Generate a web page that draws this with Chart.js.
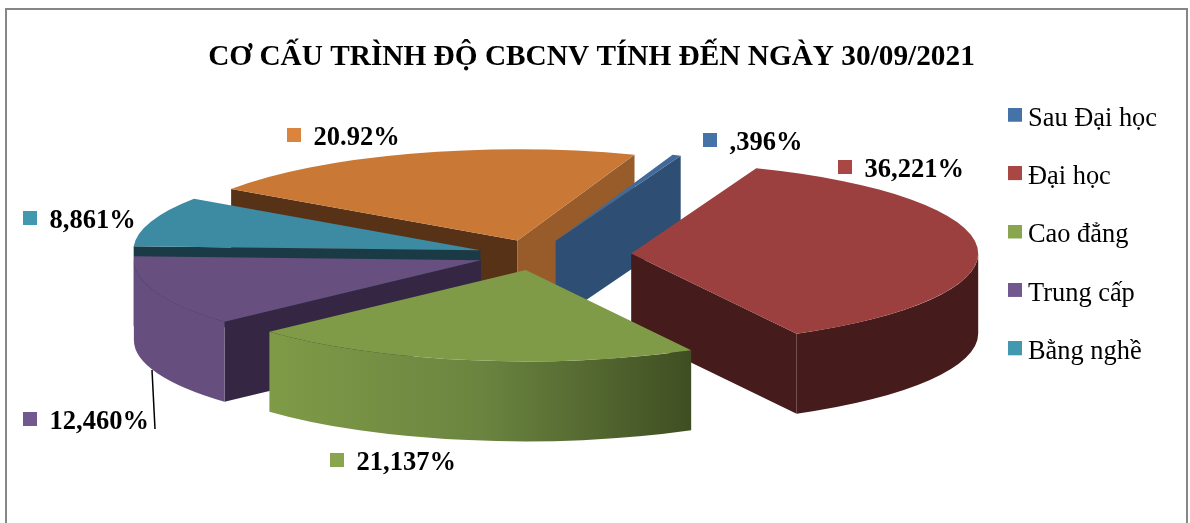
<!DOCTYPE html>
<html>
<head>
<meta charset="utf-8">
<script src="https://cdn.jsdelivr.net/npm/chart.js@4"></script>
<style>
  html, body { margin: 0; padding: 0; background: #fff; overflow: hidden; }
  canvas { display: block; }
</style>
</head>
<body>
<canvas id="chart" width="1190" height="523"></canvas>
<script>
const titleText = 'CƠ CẤU TRÌNH ĐỘ CBCNV TÍNH ĐẾN NGÀY 30/09/2021';
const categories = ['Sau Đại học', 'Đại học', 'Cao đẳng', 'Trung cấp', 'Bằng nghề', ''];
const shares = [0.396, 36.221, 21.137, 12.46, 8.861, 20.92];
const shareLabels = [',396%', '36,221%', '21,137%', '12,460%', '8,861%', '20.92%'];

const legendColors = ['#4573A7', '#AA4643', '#89A54E', '#71588F', '#4198AF', '#DB843D'];
const topColors = ['#41699A', '#9C3F3F', '#7F9B47', '#674F7F', '#3D8AA3', '#C97935'];
const startCutColors = ['#2E4F73', '#451B1B', '#451B1B', '#352743', '#1A3B45', '#573216'];
const endCutColors = ['#2E4F73', '#451B1B', '#5A7030', '#352743', '#1A3B45', '#985C2B'];
const sideColors = ['#2E4F73', '#451B1B', '#7F9B47', '#664E7E', '#3D8AA3', '#985C2B'];

// pie is flattened by hand, chart.js has no 3d mode
const squash = 0.263;
const depth = 80;
const shiftX = 36;
const shiftY = -8;
const explode = [58, 96, 58, 58, 58, 58];
const paintOrder = [5, 0, 4, 3, 1, 2];
const labelSpots = [[703, 133], [838, 160], [330, 453], [23, 412], [23, 211], [287, 128]];

function slicePlace(arc, i) {
  const mid = (arc.startAngle + arc.endAngle) / 2;
  return {
    x: arc.x + shiftX + Math.cos(mid) * explode[i],
    y: arc.y + shiftY + Math.sin(mid) * explode[i] * squash
  };
}

function drawCut(ctx, p, r, angle, color) {
  const ex = p.x + Math.cos(angle) * r;
  const ey = p.y + Math.sin(angle) * r * squash;
  ctx.fillStyle = color;
  ctx.beginPath();
  ctx.moveTo(p.x, p.y);
  ctx.lineTo(ex, ey);
  ctx.lineTo(ex, ey + depth);
  ctx.lineTo(p.x, p.y + depth);
  ctx.closePath();
  ctx.fill();
}

// part of the slice's arc on the viewer's side, if any
function frontSpan(a0, a1) {
  for (let k = -1; k <= 1; k++) {
    const from = Math.max(a0 + k * 2 * Math.PI, 0);
    const to = Math.min(a1 + k * 2 * Math.PI, Math.PI);
    if (to > from) return [from, to];
  }
  return null;
}

// taller than the square so it sits a little above the text's middle
function squareMarker(color) {
  const c = document.createElement('canvas');
  c.width = 14;
  c.height = 22;
  const g = c.getContext('2d');
  g.fillStyle = color;
  g.fillRect(0, 0, 14, 14);
  return c;
}

const pie3d = {
  id: 'pie3d',
  beforeDraw(chart) {
    const ctx = chart.ctx;
    ctx.save();
    ctx.strokeStyle = '#868686';
    ctx.lineWidth = 2;
    ctx.strokeRect(6, 9, 1181, 530);
    ctx.restore();
  },
  beforeDatasetDraw(chart, args) {
    const ctx = chart.ctx;
    const arcs = args.meta.data;
    paintOrder.forEach(i => {
      const arc = arcs[i];
      const p = slicePlace(arc, i);
      const r = arc.outerRadius;
      const a0 = arc.startAngle;
      const a1 = arc.endAngle;

      // only the cut walls facing the viewer
      if (Math.cos(a0) < 0) drawCut(ctx, p, r, a0, startCutColors[i]);
      if (Math.cos(a1) > 0) drawCut(ctx, p, r, a1, endCutColors[i]);

      // rim
      const span = frontSpan(a0, a1);
      if (span) {
        let rimFill = sideColors[i];
        if (i === 2) {
          rimFill = ctx.createLinearGradient(p.x - 258, 0, p.x + 166, 0);
          rimFill.addColorStop(0, '#7F9B47');
          rimFill.addColorStop(0.5, '#6B8540');
          rimFill.addColorStop(1, '#3F4E22');
        }
        ctx.fillStyle = rimFill;
        ctx.beginPath();
        ctx.ellipse(p.x, p.y, r, r * squash, 0, span[0], span[1]);
        ctx.ellipse(p.x, p.y + depth, r, r * squash, 0, span[1], span[0], true);
        ctx.closePath();
        ctx.fill();
      }

      // top face is the library's own arc
      ctx.save();
      ctx.translate(p.x, p.y);
      ctx.scale(1, squash);
      ctx.translate(-arc.x, -arc.y);
      arc.draw(ctx);
      ctx.restore();
    });
    return false;
  },
  afterDatasetsDraw(chart) {
    const ctx = chart.ctx;
    ctx.save();
    // leader of the purple label
    ctx.strokeStyle = '#000';
    ctx.lineWidth = 1.5;
    ctx.beginPath();
    ctx.moveTo(152, 370);
    ctx.lineTo(155, 429);
    ctx.stroke();

    ctx.font = 'bold 26.5px "Liberation Serif"';
    ctx.textBaseline = 'middle';
    shareLabels.forEach((text, i) => {
      const spot = labelSpots[i];
      ctx.fillStyle = legendColors[i];
      ctx.fillRect(spot[0], spot[1], 14, 14);
      ctx.fillStyle = '#000';
      ctx.fillText(text, spot[0] + 26.5, spot[1] + 10.5);
    });
    ctx.restore();
  }
};

new Chart(document.getElementById('chart'), {
  type: 'pie',
  data: {
    labels: categories,
    datasets: [
      {
        data: shares,
        backgroundColor: topColors,
        borderWidth: 0
      }
    ]
  },
  options: {
    responsive: false,
    animation: false,
    rotation: 19.7,
    radius: 347,
    layout: { padding: { left: 16, right: 23, top: 40, bottom: 92 } },
    plugins: {
      title: {
        display: true,
        text: titleText,
        color: '#000',
        font: { family: '"Liberation Serif"', size: 29.3, weight: 'bold' },
        padding: { top: 0, bottom: 20 }
      },
      legend: {
        position: 'right',
        labels: {
          color: '#000',
          font: { family: '"Liberation Serif"', size: 26.4 },
          usePointStyle: true,
          boxWidth: 0.01,
          boxHeight: 14,
          padding: 32,
          filter: item => item.text !== '',
          generateLabels() {
            return categories.map((text, i) => ({
              text: text,
              fillStyle: legendColors[i],
              strokeStyle: legendColors[i],
              pointStyle: squareMarker(legendColors[i]),
              lineWidth: 0,
              index: i
            }));
          }
        }
      },
      tooltip: { enabled: false }
    }
  },
  plugins: [pie3d]
});
</script>
</body>
</html>
